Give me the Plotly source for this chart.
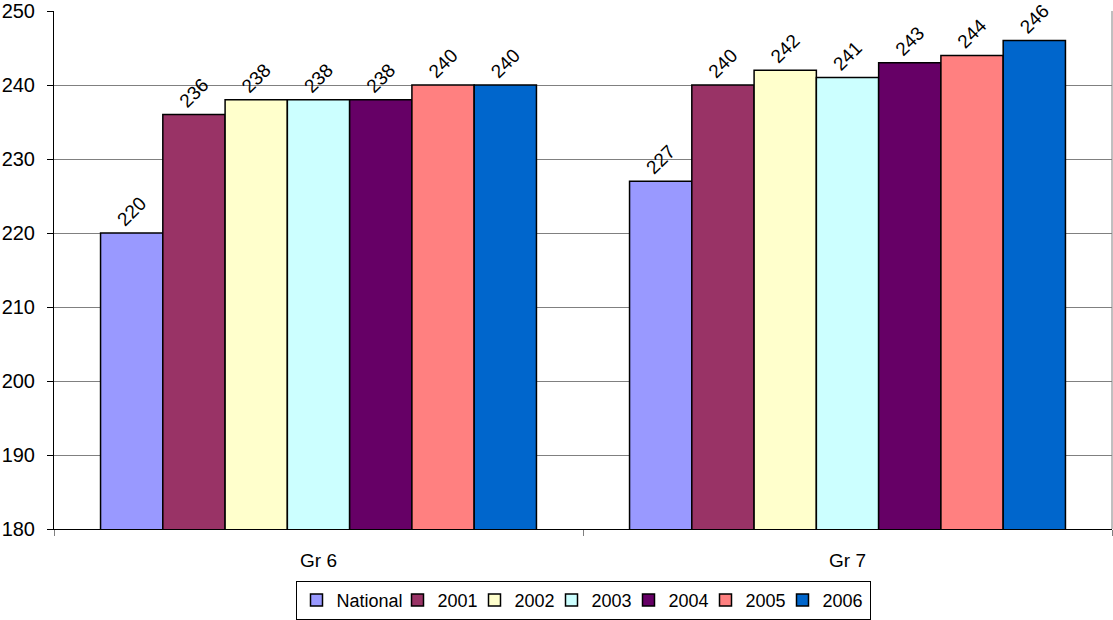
import plotly.graph_objects as go

categories = ["Gr 6", "Gr 7"]
series_names = ["National", "2001", "2002", "2003", "2004", "2005", "2006"]
national = [220, 227]
y2001 = [236, 240]
y2002 = [238, 242]
y2003 = [238, 241]
y2004 = [238, 243]
y2005 = [240, 244]
y2006 = [240, 246]
series_values = [national, y2001, y2002, y2003, y2004, y2005, y2006]
colors = ["#9999FF", "#993366", "#FFFFCC", "#CCFFFF", "#660066", "#FF8080", "#0066CC"]
y_ticks = [180, 190, 200, 210, 220, 230, 240, 250]

font_family = "Liberation Sans, Arial, sans-serif"

fig = go.Figure()
n = len(series_names)
for i, (name, vals, col) in enumerate(zip(series_names, series_values, colors)):
    if name == "National":
        lw = 56
    elif i == n - 1:
        lw = 42
    else:
        lw = 32
    fig.add_trace(go.Bar(
        x=categories, y=vals, name=name,
        marker=dict(color=col, line=dict(color="black", width=1.5)),
        text=[str(v) for v in vals], textposition="outside",
        textangle=-45, constraintext="none", cliponaxis=False,
        textfont=dict(family=font_family, size=19, color="black"),
        legendwidth=lw,
    ))

fig.update_layout(
    barmode="group", bargap=0.176, bargroupgap=0,
    width=1113, height=620,
    margin=dict(l=54, r=1, t=11, b=90),
    plot_bgcolor="white", paper_bgcolor="white",
    font=dict(family=font_family, size=20, color="black"),
    showlegend=True,
    legend=dict(orientation="h", x=0.5, xanchor="center", y=-0.098, yanchor="top",
                bordercolor="black", borderwidth=1, font=dict(size=18),
                traceorder="normal", itemwidth=30, tracegroupgap=0),
    xaxis=dict(showline=True, linecolor="black", linewidth=1, mirror=False,
               ticks="outside", tickson="boundaries", ticklen=6, tickcolor="#808080",
               tickfont=dict(size=19), ticklabelstandoff=14, automargin=False),
    yaxis=dict(range=[180, 250], tickvals=y_ticks, showgrid=True, gridcolor="#808080",
               gridwidth=1, showline=True, linecolor="black", linewidth=1,
               ticks="outside", ticklen=6, tickcolor="black", zeroline=False,
               tickfont=dict(size=20), ticklabelstandoff=8, automargin=False),
    shapes=[dict(type="line", xref="paper", yref="paper", x0=1, x1=1, y0=0, y1=1,
                 line=dict(color="#808080", width=1))],
)

fig.write_html("out.html", config={"displayModeBar": False},
               post_script="document.body.style.margin='0';")
